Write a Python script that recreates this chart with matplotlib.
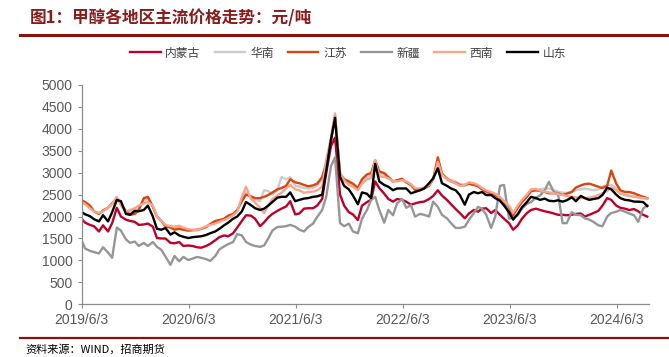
import pandas as pd
import matplotlib.pyplot as plt
from matplotlib.lines import Line2D

plt.rcParams['font.family'] = ['Liberation Sans', 'Noto Sans CJK SC', 'DejaVu Sans']

# 半月度取样 (每月1日、15日)
dates = pd.date_range('2019-06-01', periods=128, freq='SMS')

nmg = [1960, 1860, 1810, 1780, 1660, 1800, 1660, 1850, 2200, 2000, 1930, 1900, 1880, 1810, 1820, 1840, 1770, 1510, 1500, 1500, 1400, 1390, 1420, 1330, 1340,
       1330, 1300, 1290, 1330, 1380, 1460, 1530, 1570, 1550, 1620, 1750, 1900, 2030, 2020, 1950, 1780, 1870, 1980, 2060, 2130, 2180, 2230, 2350, 2050, 2070,
       2180, 2190, 2190, 2250, 2400, 3000, 3600, 3800, 2500, 2250, 2100, 2050, 1920, 2250, 2330, 2380, 2800, 2650, 2520, 2400, 2340, 2400, 2380,
       2340, 2270, 2300, 2330, 2340, 2400, 2470, 2600, 2480, 2380, 2280, 2170, 2080, 1960, 2070, 2150, 2110, 2180, 2190, 2080, 2150, 2040, 1950, 1850,
       1700, 1800, 1950, 2080, 2150, 2180, 2150, 2120, 2100, 2070, 2040, 2040, 2030, 2040, 2060, 2070, 2000, 2040, 2080, 2130, 2250, 2420, 2380, 2250,
       2200, 2180, 2150, 2170, 2120, 2040, 2000]

huanan = [2350, 2300, 2220, 2120, 2070, 2130, 2200, 2290, 2420, 2280, 2120, 2100, 2140, 2200, 2380, 2400, 2240, 2000, 1900, 1790, 1760, 1730, 1750, 1720, 1680,
          1690, 1690, 1720, 1770, 1820, 1870, 1900, 1930, 1990, 2040, 2130, 2380, 2550, 2430, 2380, 2350, 2600, 2580, 2500, 2600, 2900, 2850, 2900, 2700, 2680,
          2650, 2640, 2650, 2700, 2850, 3300, 3750, 4250, 2950, 2820, 2760, 2700, 2620, 2800, 2900, 2940, 3250, 2980, 2950, 2880, 2800, 2810, 2840,
          2790, 2730, 2630, 2620, 2650, 2710, 2850, 3280, 2960, 2880, 2830, 2800, 2740, 2700, 2740, 2730, 2700, 2640, 2580, 2540, 2500, 2430, 2330, 2220,
          2050, 2220, 2350, 2460, 2570, 2600, 2620, 2640, 2640, 2600, 2570, 2540, 2540, 2560, 2600, 2620, 2640, 2620, 2600, 2620, 2680, 2720, 2720, 2650,
          2560, 2500, 2480, 2460, 2440, 2420, 2400]

jiangsu = [2380, 2330, 2250, 2120, 2060, 2140, 2200, 2300, 2400, 2300, 2120, 2040, 2060, 2150, 2420, 2450, 2220, 2000, 1900, 1780, 1750, 1700, 1720, 1700, 1680,
           1690, 1700, 1720, 1760, 1830, 1900, 1920, 1950, 2020, 2060, 2150, 2350, 2500, 2460, 2420, 2420, 2450, 2490, 2550, 2620, 2650, 2700, 2850, 2780, 2760,
           2720, 2690, 2710, 2750, 2900, 3200, 3700, 4300, 2980, 2850, 2800, 2750, 2650, 2850, 2960, 2990, 3280, 3030, 2990, 2900, 2800, 2830, 2860,
           2780, 2720, 2610, 2600, 2640, 2700, 2850, 3350, 2980, 2860, 2800, 2760, 2720, 2720, 2750, 2720, 2690, 2620, 2570, 2530, 2490, 2420, 2310, 2200,
           2030, 2200, 2330, 2450, 2580, 2600, 2580, 2560, 2530, 2530, 2530, 2490, 2520, 2560, 2660, 2710, 2740, 2750, 2720, 2680, 2650, 2700, 3050, 2750,
           2600, 2560, 2560, 2530, 2490, 2450, 2420]

xinjiang = [1480, 1270, 1220, 1190, 1160, 1300, 1180, 1060, 1750, 1680, 1480, 1400, 1430, 1330, 1400, 1330, 1420, 1310, 1240, 1090, 900, 1100, 980, 1080, 1010,
            1040, 1080, 1060, 1030, 990, 1100, 1250, 1320, 1370, 1420, 1600, 1570, 1420, 1360, 1330, 1310, 1340, 1500, 1680, 1760, 1770, 1780, 1810, 1770, 1700,
            1660, 1760, 1840, 1990, 2150, 2450, 3150, 3350, 1850, 1780, 1840, 1660, 1620, 1950, 2150, 2380, 2450, 2150, 1860, 2150, 2030, 2300, 2400,
            2200, 2260, 2000, 2060, 2040, 2000, 2340, 2220, 2040, 1960, 1850, 1740, 1740, 1770, 1920, 2080, 2220, 2180, 2040, 1740, 2000, 2700, 2720, 1950,
            1980, 2030, 2180, 2290, 2330, 2430, 2480, 2600, 2790, 2560, 2530, 1850, 1850, 2100, 2040, 2030, 1960, 1930, 1880, 1800, 1780, 2000, 2080, 2110,
            2150, 2110, 2070, 2030, 1880, 2180, 2260]

xinan = [2340, 2280, 2190, 2120, 2080, 2120, 2200, 2280, 2450, 2250, 2110, 2150, 2190, 2250, 2300, 2330, 2250, 2000, 1900, 1810, 1780, 1770, 1790, 1750, 1710,
         1700, 1690, 1730, 1780, 1810, 1840, 1880, 1920, 1960, 2030, 2110, 2450, 2680, 2400, 2320, 2200, 2080, 2250, 2400, 2480, 2540, 2640, 2720, 2620, 2600,
         2540, 2560, 2570, 2600, 2680, 3250, 3800, 4350, 3000, 2820, 2720, 2680, 2600, 2750, 2850, 2880, 3290, 2920, 2900, 2870, 2810, 2800, 2830,
         2800, 2740, 2650, 2640, 2660, 2720, 2850, 3250, 2950, 2850, 2800, 2750, 2700, 2720, 2780, 2760, 2720, 2650, 2600, 2560, 2520, 2450, 2350, 2250,
         2080, 2250, 2380, 2500, 2620, 2630, 2590, 2570, 2550, 2530, 2510, 2490, 2470, 2450, 2440, 2420, 2420, 2430, 2450, 2490, 2530, 2580, 2660, 2600,
         2520, 2490, 2470, 2450, 2440, 2420, 2410]

shandong = [2110, 2050, 2010, 1940, 1890, 2030, 1890, 2100, 2380, 2350, 2060, 2040, 2130, 2120, 2150, 2250, 2000, 1720, 1700, 1740, 1590, 1640, 1570, 1540, 1510,
            1530, 1540, 1550, 1580, 1620, 1660, 1720, 1800, 1860, 1950, 2000, 2120, 2330, 2260, 2190, 2150, 2180, 2250, 2330, 2430, 2450, 2450, 2550, 2350, 2380,
            2410, 2420, 2450, 2460, 2500, 3050, 3750, 4250, 2900, 2700, 2620, 2480, 2280, 2550, 2520, 2420, 3200, 2800, 2720, 2680, 2600, 2640, 2640,
            2640, 2530, 2560, 2600, 2640, 2760, 2870, 3100, 2760, 2700, 2640, 2600, 2490, 2270, 2500, 2560, 2530, 2560, 2490, 2490, 2420, 2360, 2250, 2100,
            1930, 2060, 2210, 2330, 2450, 2420, 2380, 2410, 2360, 2350, 2370, 2340, 2370, 2440, 2350, 2470, 2420, 2380, 2400, 2420, 2490, 2660, 2620, 2500,
            2420, 2380, 2370, 2340, 2340, 2330, 2240]

series = [('内蒙古', nmg, '#C0002A'),
          ('华南', huanan, '#CCCCCC'),
          ('江苏', jiangsu, '#D9440F'),
          ('新疆', xinjiang, '#969696'),
          ('西南', xinan, '#F8A58F'),
          ('山东', shandong, '#000000')]

tick_years = [2019, 2020, 2021, 2022, 2023, 2024]

fig = plt.figure(figsize=(6.69, 3.57), dpi=100)
ax = fig.add_axes([0.1221, 0.1476, 0.8485, 0.6145])

for name, vals, color in series:
    ax.plot(dates, vals, color=color, lw=1.7, label=name)

ax.set_xlim(pd.Timestamp('2019-06-03'), pd.Timestamp('2024-09-22'))
ax.set_ylim(0, 5000)
ax.set_yticks(range(0, 5001, 500))
ax.set_xticks([pd.Timestamp(f'{y}-06-03') for y in tick_years])
ax.set_xticklabels([f'{y}/6/3' for y in tick_years])

for s in ['top', 'right']:
    ax.spines[s].set_visible(False)
for s in ['left', 'bottom']:
    ax.spines[s].set_color('#8C8C8C')
    ax.spines[s].set_linewidth(0.9)
ax.tick_params(colors='#8C8C8C', labelcolor='#595959', labelsize=10, length=3, width=0.8)

# 图例
fig.legend(loc='center', bbox_to_anchor=(0.52, 1 - 53 / 357), ncol=6, frameon=False,
           fontsize=8.5, handlelength=2.6, handletextpad=0.4, columnspacing=1.2,
           labelcolor='#404040', prop={'family': 'Noto Sans CJK SC', 'size': 8.5})

# 标题与分隔线
fig.text(30 / 669, 1 - 18 / 357, '图1：甲醇各地区主流价格走势：元/吨', fontsize=12, fontweight='bold',
         color='#8B1A1A', family='Noto Sans CJK SC', va='center', ha='left')
fig.add_artist(Line2D([20 / 669, 1], [1 - 35 / 357] * 2, color='#8B1010', lw=2.2))
fig.add_artist(Line2D([20 / 669, 1], [1 - 338 / 357] * 2, color='#8B1010', lw=1.6))
fig.text(25 / 669, 1 - 349 / 357, '资料来源：WIND，招商期货', fontsize=8, color='#000000',
         family='Noto Sans CJK SC', va='center', ha='left')

fig.savefig('out.png', dpi=100, facecolor='white')
